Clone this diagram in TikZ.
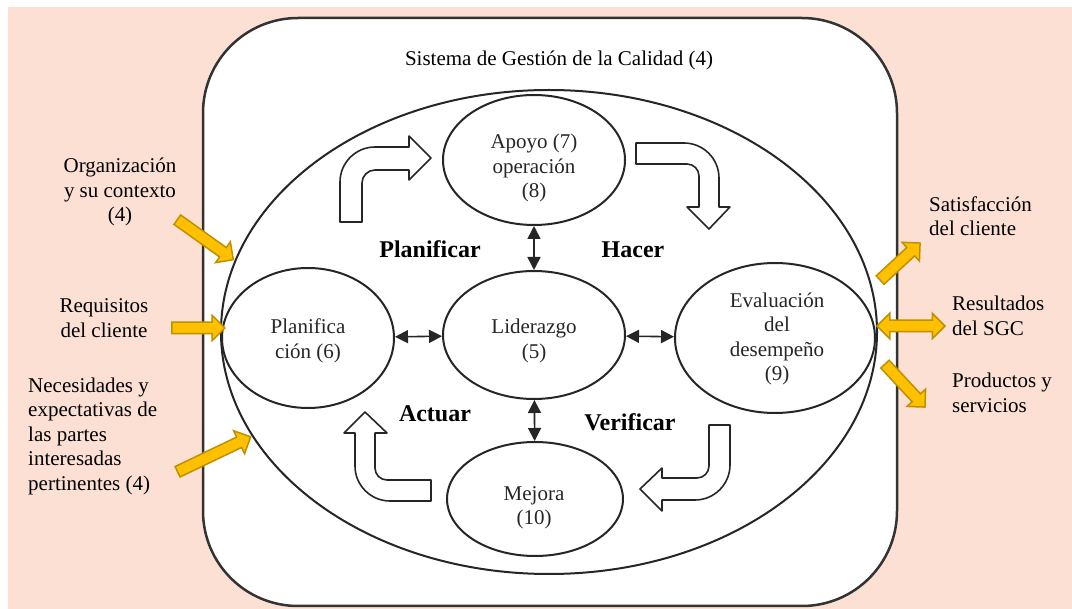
\documentclass[tikz,border=0pt]{standalone}
\usepackage{fontspec}
\setmainfont{Liberation Serif}
\usepackage{tikz}
\usetikzlibrary{arrows.meta,positioning,shapes.geometric,shapes.arrows}
\definecolor{Ink}{HTML}{262626}
\definecolor{Frame}{HTML}{333333}
\definecolor{Peach}{HTML}{FCE0D4}
\definecolor{Gold}{HTML}{FFC000}
\definecolor{GoldEdge}{HTML}{BF9000}
\newcommand\txtsize{\fontsize{21}{24.5}\selectfont}
\newcommand\phasesize{\fontsize{24}{28}\selectfont\bfseries}
\tikzset{
  proc/.style={ellipse,draw=Ink,line width=2pt,inner sep=0pt},
  intxt/.style={inner sep=0pt,align=center,text=Ink,font=\txtsize},
  lbl/.style={inner sep=0pt,align=center,font=\txtsize},
  phase/.style={inner sep=0pt,font=\phasesize},
  link/.style={{Triangle[length=13pt,width=13pt]}-{Triangle[length=13pt,width=13pt]},line width=1.6pt,draw=Ink},
  bent/.style={draw=Ink,line width=1.6pt,fill=white,line join=round},
  yarrow/.style={single arrow,draw=GoldEdge,fill=Gold,line width=1.5pt,inner xsep=0pt,inner ysep=5pt,single arrow head extend=7pt},
  ydouble/.style={double arrow,draw=GoldEdge,fill=Gold,line width=1.5pt,inner xsep=0pt,inner ysep=5pt,double arrow head extend=7pt}
}

\begin{document}
\begin{tikzpicture}[x=1pt,y=-1pt]
  \useasboundingbox (0,0) rectangle (1072,609);
  \fill[Peach] (8,7) rectangle (1072,609);
  % system frame
  \draw[Frame,line width=2.5pt,fill=white,rounded corners=95pt] (203,18) rectangle (897,606);
  \node[lbl] (title) at (559,60) {Sistema de Gestión de la Calidad (4)};
  \node[ellipse,draw=Ink,line width=2pt,minimum width=656pt,minimum height=484pt,inner sep=0pt] (sgc) at (549,332) {};

  % processes
  \node[proc,minimum width=182pt,minimum height=130pt] (apoyo) at (534,160) {};
  \node[proc,minimum width=172pt,minimum height=140pt] (plan) at (308,338) {};
  \node[proc,minimum width=182pt,minimum height=128pt] (lider) at (534,335) {};
  \node[proc,minimum width=200pt,minimum height=150pt] (eval) at (775,338) {};
  \node[proc,minimum width=176pt,minimum height=114pt] (mejora) at (535,499) {};
  \node[intxt] (apoyo-t) at (534,168) {Apoyo (7)\\operación\\(8)};
  \node[intxt] (plan-t) at (308,341) {Planifica\\ción (6)};
  \node[intxt] (lider-t) at (534,341) {Liderazgo\\(5)};
  \node[intxt] (eval-t) at (777,339) {Evaluación\\del\\desempeño\\(9)};
  \node[intxt] (mejora-t) at (534,508) {Mejora\\(10)};

  \draw[link] (apoyo) -- (lider);
  \draw[link] (lider) -- (mejora);
  \draw[link] (plan) -- (lider);
  \draw[link] (lider) -- (eval);

  % PDCA arrows
  \draw[bent] (340,222) -- (340,182) .. controls (340,162.7) and (355.7,147) .. (375,147) -- (409,147) -- (409,136) -- (431,158) -- (409,180) -- (409,170) -- (375,170) .. controls (367.8,170) and (362,175.8) .. (362,183) -- (362,222) -- cycle;
  \draw[bent] (636,143) -- (684,143) .. controls (703.3,143) and (719,158.7) .. (719,178) -- (719,207) -- (730,207) -- (709,229) -- (687,207) -- (699,207) -- (699,176) .. controls (699,169.4) and (693.6,164) .. (687,164) -- (636,164) -- cycle;
  \draw[bent] (431,501) -- (390,501) .. controls (370.7,501) and (355,485.3) .. (355,466) -- (355,433) -- (344,433) -- (365,412) -- (387,433) -- (375,433) -- (375,468) .. controls (375,474.6) and (380.4,480) .. (387,480) -- (431,480) -- cycle;
  \draw[bent] (709,425) -- (730,425) -- (730,465) .. controls (730,484.3) and (714.3,500) .. (695,500) -- (662,500) -- (662,511) -- (640,489) -- (662,468) -- (662,478) -- (697,478) .. controls (703.6,478) and (709,472.6) .. (709,466) -- cycle;

  \node[phase] (p-plan) at (430,249) {Planificar};
  \node[phase] (p-hacer) at (633,250) {Hacer};
  \node[phase] (p-act) at (435,414) {Actuar};
  \node[phase] (p-ver) at (630,422) {Verificar};

  % inputs
  \node[lbl] (ctx) at (120,192) {Organización\\y su contexto\\(4)};
  \node[lbl] (req) at (104,318) {Requisitos\\del cliente};
  \node[lbl,align=left,anchor=west] (nec) at (28,436) {Necesidades y\\expectativas de\\las partes\\interesadas\\pertinentes (4)};
  \node[yarrow,minimum height=68.8pt,rotate=-35.5] (a-ctx) at (203,238) {};
  \node[yarrow,minimum height=53pt] (a-req) at (195.5,328) {};
  \node[yarrow,minimum height=81pt,rotate=25.6] (a-nec) at (211.5,455.5) {};

  % outputs
  \node[lbl,align=left,anchor=west] (sat) at (929,216) {Satisfacción\\del cliente};
  \node[lbl,align=left,anchor=west] (res) at (952,316) {Resultados\\del SGC};
  \node[lbl,align=left,anchor=west] (prod) at (952,393) {Productos y\\servicios};
  \node[yarrow,minimum height=54.5pt,rotate=42.8] (a-sat) at (898,263.5) {};
  \node[ydouble,minimum height=68pt] (a-res) at (911,326) {};
  \node[yarrow,minimum height=58.7pt,rotate=-47] (a-prod) at (903,383.5) {};
\end{tikzpicture}
\end{document}
